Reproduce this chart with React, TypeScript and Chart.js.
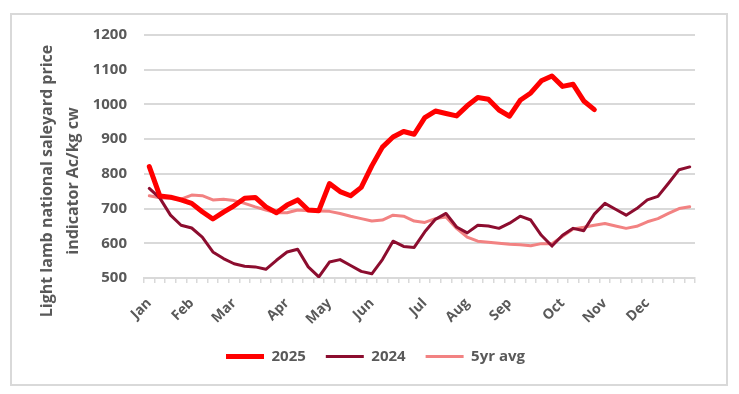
import React, { useEffect, useRef } from "react";
import { Chart, registerables } from "chart.js";

Chart.register(...registerables);

const monthNames = ["Jan", "Feb", "Mar", "Apr", "May", "Jun", "Jul", "Aug", "Sep", "Oct", "Nov", "Dec"];
const monthWeekIndex = [0, 4, 8, 13, 17, 21, 26, 30, 34, 39, 43, 47];
const weekCount = 52;

const series2025 = [821, 736, 733, 725, 715, 691, 670, 690, 708, 730, 732, 705, 688, 710, 725, 696, 694, 772, 749, 737, 761, 823, 877, 906, 922, 914, 962, 981, 974, 967, 996, 1020, 1015, 984, 966, 1012, 1033, 1068, 1082, 1052, 1058, 1010, 985];
const series2024 = [758, 730, 681, 652, 644, 618, 575, 556, 541, 534, 532, 525, 551, 575, 583, 532, 503, 546, 553, 536, 519, 512, 553, 606, 591, 588, 633, 669, 686, 647, 630, 652, 650, 643, 658, 678, 667, 623, 592, 623, 643, 636, 684, 715, 698, 681, 700, 725, 735, 773, 812, 820];
const series5yr = [737, 731, 729, 727, 739, 737, 725, 727, 723, 715, 705, 696, 688, 688, 696, 694, 693, 692, 686, 678, 671, 664, 667, 681, 678, 664, 660, 671, 676, 643, 618, 606, 603, 600, 597, 596, 593, 599, 599, 620, 641, 646, 652, 657, 650, 643, 649, 662, 671, 686, 700, 705];

const yTitleLines = ["Light lamb national saleyard price", "indicator Ac/kg cw"];

const FONT = "'Open Sans', 'DejaVu Sans', sans-serif";
const TEXT = "#595959";
const GRID = "#d9d9d9";

export default function App() {
  const ref = useRef<HTMLCanvasElement | null>(null);

  useEffect(() => {
    document.body.style.margin = "0";
    const canvas = ref.current;
    if (!canvas) return;

    const weekLabels: string[] = [];
    for (let i = 0; i < weekCount; i++) weekLabels.push("");
    monthWeekIndex.forEach((w, k) => (weekLabels[w] = monthNames[k]));

    const framePlugin = {
      id: "frame",
      beforeDraw(chart: any) {
        const ctx = chart.ctx;
        ctx.save();
        ctx.fillStyle = "#ffffff";
        ctx.fillRect(0, 0, chart.width, chart.height);
        ctx.strokeStyle = GRID;
        ctx.lineWidth = 2;
        ctx.strokeRect(11, 14, 716, 371);
        ctx.restore();
      },
      afterDraw(chart: any) {
        const ctx = chart.ctx;
        ctx.save();
        ctx.fillStyle = TEXT;
        ctx.font = `bold 16px ${FONT}`;
        ctx.textAlign = "center";
        ctx.textBaseline = "middle";
        const xs = [47, 73];
        yTitleLines.forEach((t, i) => {
          ctx.save();
          ctx.translate(xs[i], 181);
          ctx.rotate(-Math.PI / 2);
          ctx.fillText(t, 0, 0);
          ctx.restore();
        });
        ctx.restore();
      },
    };

    const chart = new Chart(canvas, {
      type: "line",
      data: {
        labels: weekLabels,
        datasets: [
          {
            label: "2025",
            data: series2025,
            borderColor: "#ff0000",
            backgroundColor: "#ff0000",
            borderWidth: 5,
            pointRadius: 0,
            tension: 0,
            borderJoinStyle: "round",
            borderCapStyle: "round",
          },
          {
            label: "2024",
            data: series2024,
            borderColor: "#8c0d2f",
            backgroundColor: "#8c0d2f",
            borderWidth: 3,
            pointRadius: 0,
            tension: 0,
            borderJoinStyle: "round",
            borderCapStyle: "round",
          },
          {
            label: "5yr avg",
            data: series5yr,
            borderColor: "#f28282",
            backgroundColor: "#f28282",
            borderWidth: 3,
            pointRadius: 0,
            tension: 0,
            borderJoinStyle: "round",
            borderCapStyle: "round",
          },
        ],
      },
      options: {
        animation: false,
        responsive: false,
        maintainAspectRatio: false,
        layout: { padding: { left: 56, right: 44, top: 35, bottom: 20 } },
        plugins: {
          legend: {
            position: "bottom",
            labels: {
              usePointStyle: true,
              pointStyle: "line",
              pointStyleWidth: 38,
              boxHeight: 15,
              padding: 20,
              color: TEXT,
              font: { family: FONT, size: 15, weight: "bold" },
            },
          },
          tooltip: { enabled: false },
        },
        scales: {
          x: {
            type: "category",
            offset: true,
            afterFit(scale: any) {
              scale.height = 51;
            },
            grid: {
              offset: true,
              drawOnChartArea: false,
              drawTicks: true,
              tickLength: 5,
              color: GRID,
              lineWidth: 1.5,
            },
            border: { color: GRID, width: 2 },
            ticks: {
              autoSkip: false,
              maxRotation: 45,
              minRotation: 45,
              padding: 12,
              color: TEXT,
              font: { family: FONT, size: 14, weight: "bold" },
            },
          },
          y: {
            min: 500,
            max: 1200,
            afterFit(scale: any) {
              scale.width = 88;
            },
            ticks: {
              stepSize: 100,
              padding: 17,
              color: TEXT,
              font: { family: FONT, size: 15, weight: "bold" },
              callback: (v: any) => String(v),
            },
            grid: { color: GRID, lineWidth: 2, drawTicks: false },
            border: { display: false },
          },
        },
      },
      plugins: [framePlugin],
    });

    return () => chart.destroy();
  }, []);

  return (
    <div style={{ position: "absolute", left: 0, top: 0, width: 739, height: 394 }}>
      <canvas ref={ref} width={739} height={394} style={{ display: "block" }} />
    </div>
  );
}
